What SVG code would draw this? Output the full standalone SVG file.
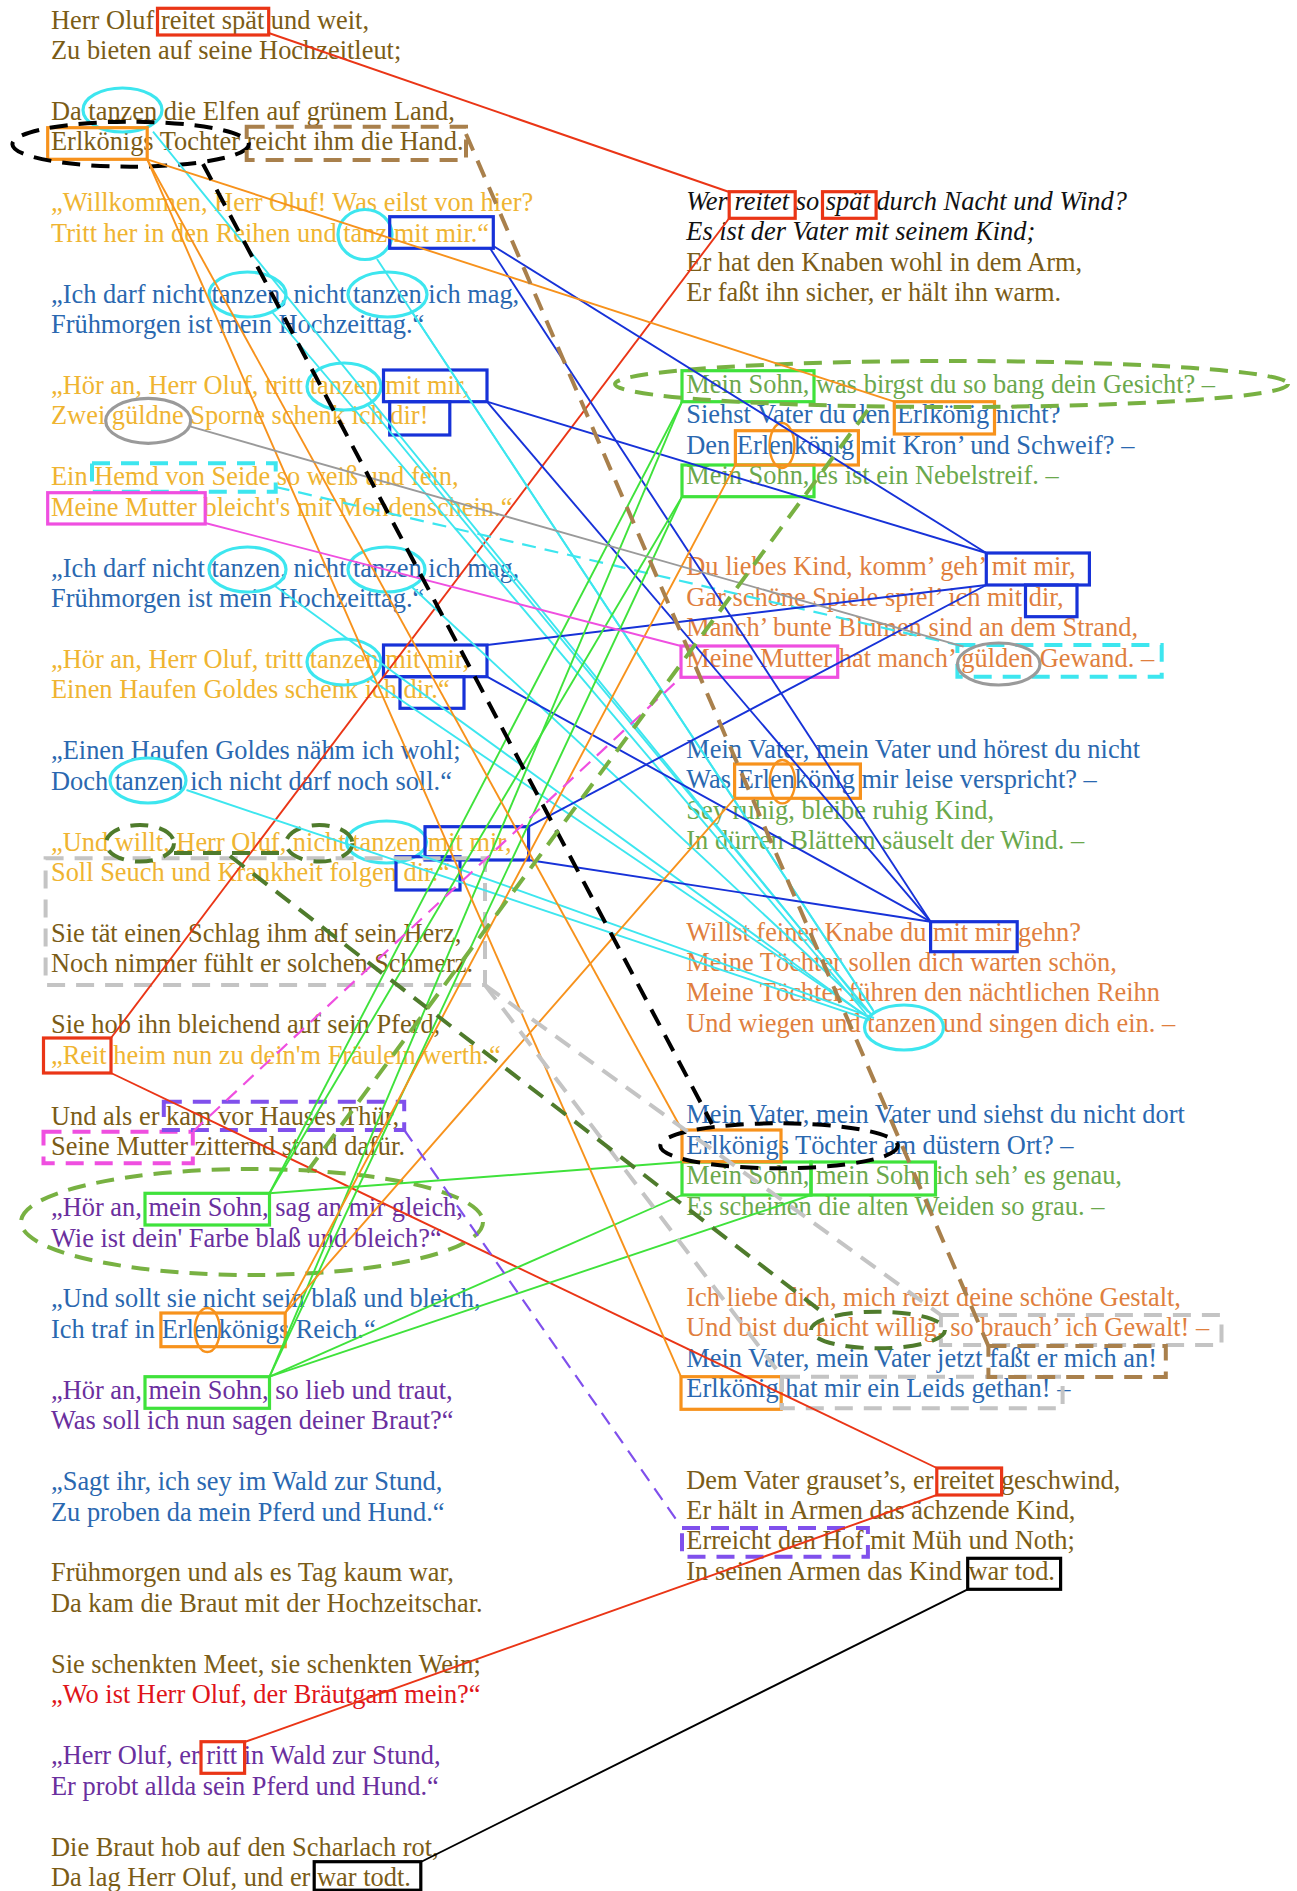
<svg xmlns="http://www.w3.org/2000/svg" width="1297" height="1891" viewBox="0 0 1297 1891">
<style>
text{font-family:"Liberation Serif","Times New Roman",serif;font-size:26.4px}
.it{font-style:italic}
.br{fill:#7b5c16}.au{fill:#efb431}.bl{fill:#2a68b0}.pu{fill:#6a2f9e}.rd{fill:#e0141a}.or{fill:#e07f3e}.gr{fill:#6ba84c}.bk{fill:#111}
.m{fill:none;stroke-width:3.2}
.l{fill:none;stroke-width:1.9}
.dk{fill:none;stroke-width:4;stroke-dasharray:18 11}
.dt{fill:none;stroke-width:2.2;stroke-dasharray:14 9}
.sred{stroke:#ea3516}.scy{stroke:#3de6ef}.sbl{stroke:#1732d8}.sgn{stroke:#3fe23b}.sor{stroke:#f7921c}.smg{stroke:#ef4fe0}.spu{stroke:#8050ec}.sgy{stroke:#9a9a9a}.slg{stroke:#c4c4c4}.sdg{stroke:#4f7b2c}.smgn{stroke:#78b142}.sbr{stroke:#a9804c}.sbk{stroke:#000}
</style>
<rect width="1297" height="1891" fill="#fff"/>

<g id="left-poem">
<g id="s0"><text x="51" y="28.5" class="br">Herr Oluf reitet spät und weit,</text><text x="51" y="58.95" class="br">Zu bieten auf seine Hochzeitleut;</text></g>
<g id="s1"><text x="51" y="119.85" class="br">Da tanzen die Elfen auf grünem Land,</text><text x="51" y="150.3" class="br">Erlkönigs Tochter reicht ihm die Hand.</text></g>
<g id="s2"><text x="51" y="211.2" class="au">„Willkommen, Herr Oluf! Was eilst von hier?</text><text x="51" y="241.65" class="au">Tritt her in den Reihen und tanz mit mir.“</text></g>
<g id="s3"><text x="51" y="302.55" class="bl">„Ich darf nicht tanzen, nicht tanzen ich mag,</text><text x="51" y="333" class="bl">Frühmorgen ist mein Hochzeittag.“</text></g>
<g id="s4"><text x="51" y="393.9" class="au">„Hör an, Herr Oluf, tritt tanzen mit mir,</text><text x="51" y="424.35" class="au">Zwei güldne Sporne schenk ich dir!</text></g>
<g id="s5"><text x="51" y="485.25" class="au">Ein Hemd von Seide so weiß und fein,</text><text x="51" y="515.7" class="au">Meine Mutter bleicht's mit Mondenschein.“</text></g>
<g id="s6"><text x="51" y="576.6" class="bl">„Ich darf nicht tanzen, nicht tanzen ich mag,</text><text x="51" y="607.05" class="bl">Frühmorgen ist mein Hochzeittag.“</text></g>
<g id="s7"><text x="51" y="667.95" class="au">„Hör an, Herr Oluf, tritt tanzen mit mir,</text><text x="51" y="698.4" class="au">Einen Haufen Goldes schenk ich dir.“</text></g>
<g id="s8"><text x="51" y="759.3" class="bl">„Einen Haufen Goldes nähm ich wohl;</text><text x="51" y="789.75" class="bl">Doch tanzen ich nicht darf noch soll.“</text></g>
<g id="s9"><text x="51" y="850.65" class="au">„Und willt, Herr Oluf, nicht tanzen mit mir,</text><text x="51" y="881.1" class="au">Soll Seuch und Krankheit folgen dir.“</text></g>
<g id="s10"><text x="51" y="942" class="br">Sie tät einen Schlag ihm auf sein Herz,</text><text x="51" y="972.45" class="br">Noch nimmer fühlt er solchen Schmerz.</text></g>
<g id="s11"><text x="51" y="1033.35" class="br">Sie hob ihn bleichend auf sein Pferd,</text><text x="51" y="1063.8" class="au">„Reit heim nun zu dein'm Fräulein werth.“</text></g>
<g id="s12"><text x="51" y="1124.7" class="br">Und als er kam vor Hauses Thür,</text><text x="51" y="1155.15" class="br">Seine Mutter zitternd stand dafür.</text></g>
<g id="s13"><text x="51" y="1216.05" class="pu">„Hör an, mein Sohn, sag an mir gleich,</text><text x="51" y="1246.5" class="pu">Wie ist dein' Farbe blaß und bleich?“</text></g>
<g id="s14"><text x="51" y="1307.4" class="bl">„Und sollt sie nicht sein blaß und bleich,</text><text x="51" y="1337.85" class="bl">Ich traf in Erlenkönigs Reich.“</text></g>
<g id="s15"><text x="51" y="1398.75" class="pu">„Hör an, mein Sohn, so lieb und traut,</text><text x="51" y="1429.2" class="pu">Was soll ich nun sagen deiner Braut?“</text></g>
<g id="s16"><text x="51" y="1490.1" class="bl">„Sagt ihr, ich sey im Wald zur Stund,</text><text x="51" y="1520.55" class="bl">Zu proben da mein Pferd und Hund.“</text></g>
<g id="s17"><text x="51" y="1581.45" class="br">Frühmorgen und als es Tag kaum war,</text><text x="51" y="1611.9" class="br">Da kam die Braut mit der Hochzeitschar.</text></g>
<g id="s18"><text x="51" y="1672.8" class="br">Sie schenkten Meet, sie schenkten Wein;</text><text x="51" y="1703.25" class="rd">„Wo ist Herr Oluf, der Bräutgam mein?“</text></g>
<g id="s19"><text x="51" y="1764.15" class="pu">„Herr Oluf, er ritt in Wald zur Stund,</text><text x="51" y="1794.6" class="pu">Er probt allda sein Pferd und Hund.“</text></g>
<g id="s20"><text x="51" y="1855.5" class="br">Die Braut hob auf den Scharlach rot,</text><text x="51" y="1885.95" class="br">Da lag Herr Oluf, und er war todt.</text></g>
</g>

<g id="right-poem">
<g id="r0"><text x="686.3" y="210" class="bk it">Wer reitet so spät durch Nacht und Wind?</text><text x="686.3" y="240.4" class="bk it">Es ist der Vater mit seinem Kind;</text><text x="686.3" y="270.9" class="br">Er hat den Knaben wohl in dem Arm,</text><text x="686.3" y="301.3" class="br">Er faßt ihn sicher, er hält ihn warm.</text></g>
<g id="r1"><text x="686.3" y="392.6" class="gr">Mein Sohn, was birgst du so bang dein Gesicht? –</text><text x="686.3" y="423.1" class="bl">Siehst Vater du den Erlkönig nicht?</text><text x="686.3" y="453.5" class="bl">Den Erlenkönig mit Kron’ und Schweif? –</text><text x="686.3" y="483.9" class="gr">Mein Sohn, es ist ein Nebelstreif. –</text></g>
<g id="r2"><text x="686.3" y="575.3" class="or">Du liebes Kind, komm’ geh’ mit mir,</text><text x="686.3" y="605.7" class="or">Gar schöne Spiele spiel’ ich mit dir,</text><text x="686.3" y="636.2" class="or">Manch’ bunte Blumen sind an dem Strand,</text><text x="686.3" y="666.6" class="or">Meine Mutter hat manch’ gülden Gewand. –</text></g>
<g id="r3"><text x="686.3" y="757.9" class="bl">Mein Vater, mein Vater und hörest du nicht</text><text x="686.3" y="788.4" class="bl">Was Erlenkönig mir leise verspricht? –</text><text x="686.3" y="818.8" class="gr">Sey ruhig, bleibe ruhig Kind,</text><text x="686.3" y="849.2" class="gr">In dürren Blättern säuselt der Wind. –</text></g>
<g id="r4"><text x="686.3" y="940.6" class="or">Willst feiner Knabe du mit mir gehn?</text><text x="686.3" y="971" class="or">Meine Töchter sollen dich warten schön,</text><text x="686.3" y="1001.4" class="or">Meine Töchter führen den nächtlichen Reihn</text><text x="686.3" y="1031.9" class="or">Und wiegen und tanzen und singen dich ein. –</text></g>
<g id="r5"><text x="686.3" y="1123.2" class="bl">Mein Vater, mein Vater und siehst du nicht dort</text><text x="686.3" y="1153.6" class="bl">Erlkönigs Töchter am düstern Ort? –</text><text x="686.3" y="1184.1" class="gr">Mein Sohn, mein Sohn ich seh’ es genau,</text><text x="686.3" y="1214.5" class="gr">Es scheinen die alten Weiden so grau. –</text></g>
<g id="r6"><text x="686.3" y="1305.8" class="or">Ich liebe dich, mich reizt deine schöne Gestalt,</text><text x="686.3" y="1336.3" class="or">Und bist du nicht willig, so brauch’ ich Gewalt! –</text><text x="686.3" y="1366.7" class="bl">Mein Vater, mein Vater jetzt faßt er mich an!</text><text x="686.3" y="1397.2" class="bl">Erlkönig hat mir ein Leids gethan! –</text></g>
<g id="r7"><text x="686.3" y="1488.5" class="br">Dem Vater grauset’s, er reitet geschwind,</text><text x="686.3" y="1518.9" class="br">Er hält in Armen das ächzende Kind,</text><text x="686.3" y="1549.4" class="br">Erreicht den Hof mit Müh und Noth;</text><text x="686.3" y="1579.8" class="br">In seinen Armen das Kind war tod.</text></g>
</g>

<g id="marks">
<g id="red-marks" class="m sred">
<rect x="157.5" y="8.3" width="111.2" height="26.7"/>
<rect x="43.5" y="1038" width="67.5" height="35"/>
<rect x="201" y="1741.7" width="43.6" height="31.6"/>
<rect x="729.2" y="191.7" width="66" height="26.6"/>
<rect x="822.5" y="191.7" width="53.6" height="26.6"/>
<rect x="936.8" y="1468" width="64.8" height="27"/>
</g>
<g id="cyan-marks" class="m scy">
<ellipse cx="122.5" cy="110" rx="39.5" ry="22"/>
<ellipse cx="365" cy="234.5" rx="27" ry="25"/>
<ellipse cx="247.5" cy="294.5" rx="38.5" ry="22.5"/>
<ellipse cx="387.5" cy="294.5" rx="39.5" ry="22.5"/>
<ellipse cx="344" cy="386.5" rx="37" ry="23.5"/>
<ellipse cx="247.5" cy="569.5" rx="38.5" ry="22.5"/>
<ellipse cx="386.5" cy="569.5" rx="38.5" ry="22.5"/>
<ellipse cx="344" cy="662" rx="37" ry="23"/>
<ellipse cx="148" cy="780.5" rx="38" ry="22.5"/>
<ellipse cx="386.5" cy="842" rx="40" ry="21"/>
<ellipse cx="904" cy="1027.5" rx="39.5" ry="22.5"/>
</g>
<g id="cyan-dashed" class="dk scy">
<rect x="92" y="463.3" width="183.7" height="28.4"/>
<rect x="957.4" y="645" width="204.3" height="31.7"/>
</g>
<g id="blue-marks" class="m sbl">
<rect x="389.7" y="216.7" width="103.6" height="31.6"/>
<rect x="383.5" y="370" width="103.5" height="31.7"/>
<rect x="389.7" y="401.7" width="60.1" height="33.3"/>
<rect x="383.5" y="645" width="103.5" height="31.7"/>
<rect x="400" y="676.7" width="64" height="31.6"/>
<rect x="425" y="826.7" width="103.6" height="33.3"/>
<rect x="396" y="856.7" width="64" height="33.3"/>
<rect x="986.3" y="553" width="103.1" height="32"/>
<rect x="1025.5" y="585" width="51.5" height="31.7"/>
<rect x="930.6" y="921.7" width="86.6" height="30"/>
</g>
<g id="green-marks" class="m sgn">
<rect x="145" y="1193.3" width="124.5" height="31.7"/>
<rect x="145" y="1376.7" width="124.5" height="31.6"/>
<rect x="682" y="370.7" width="132" height="31"/>
<rect x="682" y="465" width="132" height="31.7"/>
<rect x="682" y="1162" width="129" height="33"/>
<rect x="811" y="1162" width="124.5" height="33"/>
</g>
<g id="orange-marks" class="m sor">
<rect x="47.7" y="127.7" width="99.5" height="31.6"/>
<rect x="160.9" y="1313" width="124.3" height="33.7"/>
<ellipse cx="207.3" cy="1330" rx="12.5" ry="22" stroke-width="2.4"/>
<rect x="894.3" y="401.7" width="100.2" height="32.3"/>
<rect x="735.4" y="430.7" width="123" height="34.3"/>
<ellipse cx="782" cy="445.5" rx="12.4" ry="22.5" stroke-width="2.4"/>
<rect x="734.6" y="764" width="125.8" height="34.3"/>
<ellipse cx="782.4" cy="781.7" rx="12.6" ry="21.7" stroke-width="2.4"/>
<rect x="682" y="1130" width="99" height="31.7"/>
<rect x="681" y="1376.7" width="100.2" height="32.6"/>
</g>
<g id="magenta-marks">
<rect class="m smg" x="47.7" y="492.7" width="157.5" height="31.3"/>
<rect class="m smg" x="681" y="646" width="156.7" height="31.3"/>
<rect class="dk smg" x="43.5" y="1131.7" width="149.3" height="31.6"/>
</g>
<g id="purple-marks" class="dk spu">
<rect x="163.8" y="1101.7" width="240.4" height="28.3"/>
<rect x="682" y="1528" width="185.9" height="28.7"/>
</g>
<g id="grey-marks" class="m sgy">
<ellipse cx="148.2" cy="420.8" rx="42.5" ry="22.5"/>
<ellipse cx="998.7" cy="664" rx="41.3" ry="21"/>
</g>
<g id="lightgrey-marks" class="dk slg">
<rect x="45.6" y="858.3" width="439.4" height="126.7"/>
<rect x="940.9" y="1315" width="280.6" height="30"/>
<rect x="782" y="1376.7" width="280.6" height="31.6"/>
</g>
<g id="black-marks">
<ellipse class="dk sbk" cx="130.6" cy="144.2" rx="118.2" ry="22.5"/>
<ellipse class="dk sbk" cx="779" cy="1145.8" rx="118.7" ry="22.5"/>
<rect class="m sbk" x="967.7" y="1558.3" width="92.9" height="31"/>
<rect class="m sbk" x="314.2" y="1861.7" width="106.6" height="28.5"/>
</g>
<g id="brown-marks" class="dk sbr">
<rect x="246.7" y="126.7" width="219.3" height="33.3"/>
<rect x="988.4" y="1346" width="177.4" height="31"/>
</g>
<g id="darkgreen-marks" class="dk sdg">
<ellipse cx="140" cy="843.3" rx="34" ry="18.3"/>
<ellipse cx="319.2" cy="843.3" rx="33.2" ry="18.3"/>
<ellipse cx="878" cy="1330" rx="67" ry="18.3"/>
</g>
<g id="midgreen-marks" class="dk smgn">
<ellipse cx="951.5" cy="384" rx="336.5" ry="23"/>
<ellipse cx="252" cy="1222" rx="231" ry="53"/>
</g>
</g>

<g id="connectors">
<g class="l sred">
<line x1="268.7" y1="33" x2="729.2" y2="192"/>
<line x1="729.2" y1="218.3" x2="111" y2="1038"/>
<line x1="111" y1="1073" x2="936.8" y2="1468"/>
<line x1="936.8" y1="1495" x2="244.6" y2="1742"/>
</g>
<g class="l scy">
<line x1="153" y1="131.7" x2="868" y2="1012"/>
<line x1="377" y1="259" x2="873" y2="1010"/>
<line x1="272" y1="312" x2="866" y2="1014"/>
<line x1="412" y1="312" x2="874" y2="1012"/>
<line x1="368" y1="405" x2="870" y2="1013"/>
<line x1="275" y1="586" x2="866" y2="1016"/>
<line x1="412" y1="587" x2="872" y2="1015"/>
<line x1="370" y1="679" x2="868" y2="1017"/>
<line x1="186.5" y1="790" x2="870" y2="1020"/>
<line x1="420" y1="855" x2="874" y2="1018"/>
</g>
<line class="dt scy" x1="275.7" y1="487" x2="957.4" y2="645"/>
<g class="l sbl">
<line x1="493.3" y1="246" x2="986.3" y2="553"/>
<line x1="490" y1="248.3" x2="930.6" y2="921.7"/>
<line x1="487" y1="401.7" x2="986.3" y2="553"/>
<line x1="487" y1="401.7" x2="930.6" y2="921.7"/>
<line x1="487" y1="645" x2="986.3" y2="585"/>
<line x1="487" y1="676.7" x2="930.6" y2="921.7"/>
<line x1="528.6" y1="826.7" x2="986.3" y2="585"/>
<line x1="528.6" y1="860" x2="930.6" y2="921.7"/>
</g>
<g class="l sgn">
<line x1="269.5" y1="1193.3" x2="682" y2="401.7"/>
<line x1="269.5" y1="1193.3" x2="682" y2="496.7"/>
<line x1="269.5" y1="1193.3" x2="682" y2="1162"/>
<line x1="269.5" y1="1376.7" x2="682" y2="401.7"/>
<line x1="269.5" y1="1376.7" x2="682" y2="496.7"/>
<line x1="269.5" y1="1376.7" x2="682" y2="1195"/>
<line x1="269.5" y1="1376.7" x2="811" y2="1195"/>
</g>
<g class="l sor">
<line x1="147.2" y1="159.3" x2="894.3" y2="401.7"/>
<line x1="147.2" y1="159.3" x2="682" y2="1130"/>
<line x1="147.2" y1="159.3" x2="681" y2="1376.7"/>
<line x1="285.2" y1="1313" x2="735.4" y2="465"/>
<line x1="285.2" y1="1313" x2="734.6" y2="798.3"/>
</g>
<line class="l smg" x1="205.2" y1="523" x2="681" y2="646"/>
<line class="dt smg" x1="192.8" y1="1131.7" x2="681" y2="677.3"/>
<line class="dt spu" x1="404.2" y1="1130" x2="680" y2="1525"/>
<line class="l sgy" x1="190.7" y1="426.7" x2="963.6" y2="646.7"/>
<line class="dk slg" x1="485" y1="985" x2="940.9" y2="1315"/>
<line class="dk slg" x1="485" y1="985" x2="782" y2="1376.7"/>
<line class="dk sbk" x1="203" y1="164" x2="712" y2="1124"/>
<line class="l sbk" x1="420.8" y1="1862" x2="967.7" y2="1589.3"/>
<line class="dk sbr" x1="466" y1="134" x2="988.4" y2="1346"/>
<line class="dk sdg" x1="174" y1="853" x2="286" y2="853"/>
<line class="dk sdg" x1="230" y1="856" x2="822" y2="1312"/>
<line class="dk smgn" x1="307" y1="1172" x2="870" y2="407"/>
</g>
</svg>
